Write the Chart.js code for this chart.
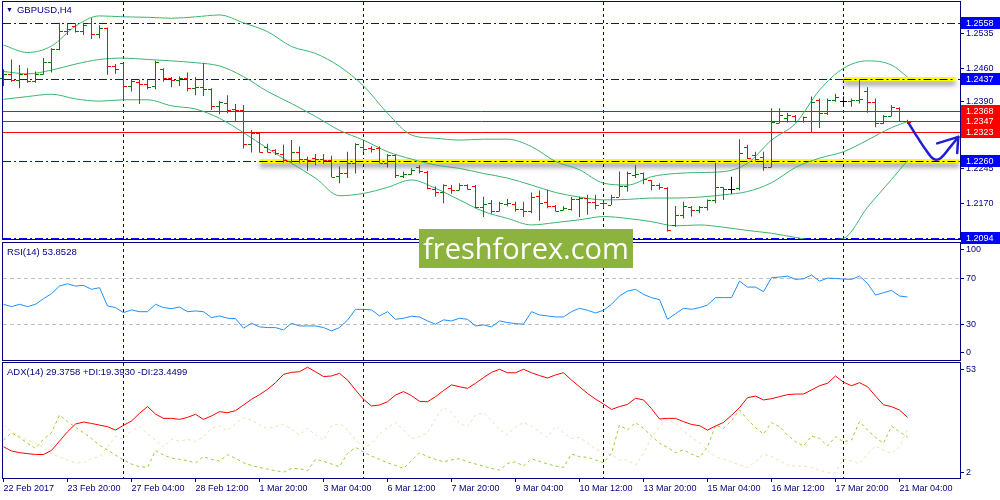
<!DOCTYPE html>
<html lang="en">
<head>
<meta charset="UTF-8">
<title>GBPUSD,H4</title>
<script src="https://cdn.jsdelivr.net/npm/chart.js"></script>
<style>
  body { margin: 0; background: #fff; overflow: hidden; }
  #wrap { position: relative; width: 1000px; height: 500px; overflow: hidden; font-family: "Liberation Sans", Arial, sans-serif; }
  #wrap canvas { position: absolute; left: 0; top: 0; }
  .cap { position: absolute; font-size: 9.5px; line-height: 12px; color: #000080; white-space: nowrap; }
  .tri { font-size: 7px; margin-right: 4px; position: relative; top: -1px; }
  .wm { position: absolute; left: 419px; top: 229px; width: 214px; height: 39px; background: #8db33f;
        color: #fff; font-family: "Open Sans", sans-serif; font-size: 29px; line-height: 38px; text-align: center; }
</style>
</head>
<body>
<div id="wrap">
  <canvas id="mainChart" width="1000" height="500"></canvas>
  <canvas id="rsiChart" width="1000" height="500"></canvas>
  <canvas id="adxChart" width="1000" height="500"></canvas>
  <div class="cap" style="left:6px;top:4px"><span class="tri">▼</span>GBPUSD,H4</div>
  <div class="cap" style="left:7px;top:246px">RSI(14) 53.8528</div>
  <div class="cap" style="left:7px;top:366px">ADX(14) 29.3758 +DI:19.3930 -DI:23.4499</div>
  <div class="wm">freshforex.com</div>
</div>

<script>
// 4h bars, index 0 = 22 Feb 2017 12:00
const opens = [
  1.2439, 1.2449, 1.2436, 1.2449, 1.2434, 1.2449, 1.2475, 1.2502, 1.2542, 1.2552,
  1.2542, 1.2558, 1.2536, 1.2547, 1.2466, 1.2472, 1.2423, 1.2432, 1.2426, 1.2423,
  1.2459, 1.2439, 1.2436, 1.2441, 1.2418, 1.2420, 1.2416, 1.2380, 1.2385, 1.2373,
  1.2371, 1.2298, 1.2321, 1.2292, 1.2285, 1.2276, 1.2260, 1.2281, 1.2265, 1.2267,
  1.2265, 1.2262, 1.2229, 1.2236, 1.2256, 1.2292, 1.2290, 1.2290, 1.2257, 1.2274,
  1.2229, 1.2233, 1.2249, 1.2238, 1.2200, 1.2195, 1.2202, 1.2199, 1.2209, 1.2206,
  1.2161, 1.2170, 1.2154, 1.2168, 1.2168, 1.2157, 1.2152, 1.2186, 1.2173, 1.2163,
  1.2155, 1.2157, 1.2178, 1.2181, 1.2173, 1.2171, 1.2166, 1.2184, 1.2206, 1.2231,
  1.2234, 1.2220, 1.2209, 1.2202, 1.2123, 1.2145, 1.2161, 1.2155, 1.2161, 1.2177,
  1.2204, 1.2200, 1.2202, 1.2292, 1.2274, 1.2270, 1.2249, 1.2342, 1.2353, 1.2358,
  1.2348, 1.2348, 1.2393, 1.2365, 1.2393, 1.2391, 1.2391, 1.2393, 1.2411, 1.2389,
  1.2342, 1.2357, 1.2375, 1.2348
];
const highs = [
  1.2459, 1.2480, 1.2468, 1.2461, 1.2454, 1.2483, 1.2504, 1.2559, 1.2558, 1.2558,
  1.2559, 1.2569, 1.2554, 1.2549, 1.2470, 1.2473, 1.2436, 1.2437, 1.2437, 1.2477,
  1.2461, 1.2442, 1.2443, 1.2452, 1.2442, 1.2472, 1.2418, 1.2391, 1.2403, 1.2384,
  1.2382, 1.2328, 1.2322, 1.2298, 1.2286, 1.2296, 1.2306, 1.2292, 1.2270, 1.2276,
  1.2276, 1.2272, 1.2249, 1.2281, 1.2299, 1.2306, 1.2293, 1.2293, 1.2276, 1.2275,
  1.2238, 1.2245, 1.2252, 1.2240, 1.2206, 1.2211, 1.2209, 1.2213, 1.2211, 1.2209,
  1.2184, 1.2177, 1.2173, 1.2179, 1.2173, 1.2173, 1.2193, 1.2197, 1.2199, 1.2166,
  1.2163, 1.2183, 1.2184, 1.2188, 1.2188, 1.2173, 1.2188, 1.2238, 1.2238, 1.2252,
  1.2236, 1.2220, 1.2213, 1.2204, 1.2164, 1.2173, 1.2164, 1.2164, 1.2178, 1.2257,
  1.2204, 1.2227, 1.2308, 1.2296, 1.2281, 1.2281, 1.2375, 1.2375, 1.2365, 1.2360,
  1.2357, 1.2400, 1.2396, 1.2396, 1.2406, 1.2400, 1.2396, 1.2436, 1.2420, 1.2396,
  1.2360, 1.2382, 1.2377, 1.2350
];
const lows = [
  1.2423, 1.2432, 1.2418, 1.2430, 1.2430, 1.2447, 1.2452, 1.2500, 1.2533, 1.2538,
  1.2533, 1.2524, 1.2526, 1.2447, 1.2449, 1.2391, 1.2411, 1.2384, 1.2416, 1.2416,
  1.2432, 1.2420, 1.2423, 1.2411, 1.2403, 1.2401, 1.2371, 1.2362, 1.2364, 1.2348,
  1.2288, 1.2279, 1.2279, 1.2279, 1.2274, 1.2257, 1.2257, 1.2256, 1.2240, 1.2252,
  1.2255, 1.2226, 1.2213, 1.2224, 1.2234, 1.2281, 1.2279, 1.2256, 1.2247, 1.2224,
  1.2224, 1.2231, 1.2234, 1.2200, 1.2184, 1.2170, 1.2190, 1.2197, 1.2199, 1.2159,
  1.2140, 1.2147, 1.2152, 1.2163, 1.2152, 1.2140, 1.2148, 1.2132, 1.2159, 1.2152,
  1.2154, 1.2154, 1.2140, 1.2145, 1.2157, 1.2159, 1.2166, 1.2184, 1.2195, 1.2224,
  1.2211, 1.2197, 1.2199, 1.2109, 1.2119, 1.2137, 1.2141, 1.2148, 1.2154, 1.2170,
  1.2177, 1.2190, 1.2197, 1.2265, 1.2262, 1.2240, 1.2247, 1.2342, 1.2344, 1.2344,
  1.2344, 1.2322, 1.2332, 1.2360, 1.2389, 1.2380, 1.2378, 1.2385, 1.2365, 1.2334,
  1.2341, 1.2357, 1.2346, 1.2341
];
const closes = [
  1.2449, 1.2436, 1.2449, 1.2434, 1.2449, 1.2475, 1.2502, 1.2542, 1.2545, 1.2542,
  1.2554, 1.2536, 1.2547, 1.2466, 1.2459, 1.2423, 1.2434, 1.2427, 1.2421, 1.2475,
  1.2439, 1.2436, 1.2439, 1.2418, 1.2420, 1.2416, 1.2380, 1.2389, 1.2371, 1.2371,
  1.2298, 1.2321, 1.2281, 1.2281, 1.2279, 1.2263, 1.2281, 1.2265, 1.2263, 1.2265,
  1.2263, 1.2227, 1.2236, 1.2257, 1.2298, 1.2286, 1.2286, 1.2257, 1.2274, 1.2231,
  1.2233, 1.2242, 1.2240, 1.2202, 1.2195, 1.2209, 1.2199, 1.2209, 1.2200, 1.2161,
  1.2168, 1.2152, 1.2170, 1.2170, 1.2157, 1.2152, 1.2184, 1.2170, 1.2164, 1.2154,
  1.2159, 1.2178, 1.2181, 1.2173, 1.2166, 1.2170, 1.2184, 1.2206, 1.2234, 1.2233,
  1.2222, 1.2209, 1.2204, 1.2112, 1.2145, 1.2163, 1.2155, 1.2161, 1.2176, 1.2204,
  1.2200, 1.2200, 1.2278, 1.2267, 1.2265, 1.2249, 1.2344, 1.2360, 1.2360, 1.2348,
  1.2355, 1.2389, 1.2365, 1.2393, 1.2400, 1.2391, 1.2393, 1.2394, 1.2389, 1.2342,
  1.2357, 1.2377, 1.2348, 1.2344
];

// Bollinger bands, read every third bar
const bandIdx = [0, 3, 6, 9, 12, 15, 18, 21, 24, 27, 30, 33, 36, 39, 42, 45, 48, 51, 54, 57,
  60, 63, 66, 69, 72, 75, 78, 81, 84, 87, 90, 93, 96, 99, 102, 105, 108, 111, 113];
const bandUpper = [1.2511, 1.2495, 1.2509, 1.2552, 1.2574, 1.2572, 1.2571, 1.2569, 1.2572, 1.2576,
  1.2559, 1.2540, 1.2508, 1.2493, 1.2465, 1.2423, 1.2364, 1.2317, 1.2310, 1.2306,
  1.2308, 1.2308, 1.2292, 1.2260, 1.2242, 1.2213, 1.2209, 1.2227, 1.2234, 1.2236,
  1.2238, 1.2256, 1.2306, 1.2342, 1.2414, 1.2461, 1.2477, 1.2468, 1.2442];
const bandMiddle = [1.2454, 1.2449, 1.2457, 1.2470, 1.2480, 1.2483, 1.2480, 1.2477, 1.2473, 1.2466,
  1.2443, 1.2411, 1.2385, 1.2357, 1.2327, 1.2306, 1.2281, 1.2265, 1.2252, 1.2245,
  1.2234, 1.2224, 1.2209, 1.2193, 1.2183, 1.2177, 1.2178, 1.2181, 1.2181, 1.2183,
  1.2188, 1.2195, 1.2214, 1.2247, 1.2267, 1.2281, 1.2306, 1.2333, 1.2346];
const bandLower = [1.2394, 1.2400, 1.2405, 1.2395, 1.2390, 1.2393, 1.2393, 1.2380, 1.2373, 1.2353,
  1.2322, 1.2288, 1.2256, 1.2224, 1.2186, 1.2191, 1.2204, 1.2220, 1.2202, 1.2177,
  1.2152, 1.2137, 1.2123, 1.2128, 1.2134, 1.2141, 1.2137, 1.2130, 1.2121, 1.2123,
  1.2118, 1.2111, 1.2105, 1.2096, 1.2089, 1.2094, 1.2161, 1.2221, 1.2262];

const rsi = [
  47.6, 45.6, 47.6, 45.6, 47.6, 52.4, 56.7, 63.2, 65.2, 63.2,
  63.8, 60.4, 61.8, 46.2, 44.8, 40.5, 42.8, 41.3, 41.3, 47.6,
  44.8, 43.9, 45.3, 41.3, 41.9, 41.3, 36.2, 37.7, 35.7, 35.4,
  27.2, 31.4, 28.3, 27.7, 27.7, 25.7, 31.4, 29.1, 29.1, 29.1,
  27.7, 24.9, 27.7, 34.0, 43.3, 43.3, 42.8, 37.7, 41.3, 34.8,
  35.7, 37.4, 36.8, 33.4, 30.6, 34.3, 33.4, 35.7, 34.8, 29.1,
  30.0, 28.3, 33.4, 32.0, 31.1, 30.6, 41.3, 38.5, 37.7, 36.8,
  36.8, 41.3, 44.2, 42.5, 40.2, 42.5, 47.6, 54.7, 58.9, 60.4,
  56.1, 53.3, 51.6, 34.8, 39.6, 44.2, 43.3, 44.8, 47.0, 53.3,
  53.3, 53.3, 67.4, 62.3, 62.3, 58.4, 70.3, 70.9, 71.7, 68.9,
  69.4, 72.6, 67.4, 70.0, 69.7, 69.2, 68.9, 71.7, 65.5, 55.5,
  57.5, 59.5, 54.7, 53.85
];

const adx = [
  14.8, 12.7, 11.9, 11.4, 11.0, 11.0, 13.0, 17.6, 22.2, 26.0,
  27.0, 26.3, 25.5, 24.7, 23.0, 25.4, 27.5, 31.3, 34.6, 30.9,
  28.8, 28.8, 28.3, 29.3, 30.8, 28.3, 30.0, 32.1, 31.6, 32.6,
  35.4, 38.2, 40.5, 43.1, 46.4, 50.5, 51.5, 51.8, 54.0, 51.8,
  49.4, 49.7, 51.0, 47.7, 42.8, 38.2, 34.9, 35.4, 37.0, 40.3,
  42.0, 40.0, 37.2, 37.0, 39.5, 42.5, 45.3, 44.4, 43.6, 46.1,
  48.9, 51.5, 53.0, 51.3, 51.3, 53.0, 51.3, 49.9, 48.7, 50.2,
  51.3, 47.7, 44.4, 41.1, 38.3, 35.9, 33.2, 34.6, 35.7, 38.7,
  37.9, 33.6, 28.5, 28.8, 28.8, 27.2, 25.8, 25.2, 23.0, 25.0,
  26.8, 30.3, 34.1, 39.0, 39.8, 37.9, 38.5, 39.5, 40.5, 40.8,
  40.8, 42.8, 44.9, 46.1, 49.7, 46.6, 44.9, 46.4, 44.4, 39.8,
  35.5, 34.6, 32.9, 29.38
];
const plusDi = [
  18.1, 21.7, 19.4, 16.5, 14.0, 18.5, 21.7, 30.5, 27.2, 24.4,
  21.7, 18.9, 15.5, 13.2, 10.7, 8.3, 6.3, 5.0, 4.6, 12.9,
  10.7, 9.2, 8.6, 7.9, 6.9, 9.9, 8.6, 7.8, 10.9, 9.1,
  6.9, 5.6, 4.6, 3.8, 3.0, 2.3, 4.1, 4.0, 3.0, 8.6,
  7.6, 6.3, 5.0, 11.5, 14.5, 12.2, 10.2, 8.6, 6.9, 5.6,
  4.1, 7.9, 11.9, 9.9, 8.6, 7.4, 8.3, 8.9, 7.4, 6.3,
  5.3, 4.1, 3.3, 6.6, 7.4, 5.3, 8.9, 7.6, 6.3, 5.3,
  4.6, 11.2, 9.9, 9.6, 8.3, 6.9, 11.5, 25.5, 23.1, 26.7,
  23.9, 20.1, 16.5, 14.5, 11.9, 13.2, 11.2, 9.6, 14.5, 25.5,
  23.9, 27.7, 32.9, 28.3, 24.2, 21.1, 26.7, 24.7, 20.6, 17.3,
  15.2, 20.1, 18.9, 15.2, 19.8, 17.3, 18.1, 27.2, 23.1, 19.4,
  16.5, 25.0, 22.2, 19.39
];
const minusDi = [
  25.5, 22.2, 20.1, 18.1, 16.8, 14.5, 11.2, 9.7, 8.3, 6.9,
  6.9, 8.9, 9.9, 14.5, 20.1, 18.5, 22.7, 24.7, 21.1, 18.1,
  14.8, 18.5, 17.5, 18.5, 17.3, 19.8, 23.9, 25.0, 22.7, 26.3,
  29.1, 28.0, 25.5, 23.7, 24.7, 25.9, 23.4, 20.6, 23.9, 20.6,
  18.1, 25.0, 26.3, 23.1, 18.1, 14.8, 16.1, 21.1, 24.2, 26.7,
  23.1, 18.9, 19.8, 21.7, 28.8, 34.2, 31.6, 26.3, 24.7, 30.5,
  31.6, 27.7, 23.4, 20.6, 24.7, 26.7, 25.0, 22.2, 19.4, 25.0,
  21.7, 18.9, 19.4, 16.8, 13.5, 12.4, 10.7, 8.3, 8.3, 5.8,
  11.5, 19.4, 24.7, 28.3, 26.3, 22.7, 19.4, 16.8, 13.2, 9.9,
  8.6, 7.4, 5.8, 4.6, 7.4, 11.2, 9.9, 7.9, 5.8, 5.3,
  5.3, 4.6, 3.3, 2.0, 2.0, 8.6, 7.9, 6.3, 11.2, 15.2,
  13.2, 11.5, 14.8, 23.45
];

// axes
const xTickIdx = [0, 8, 16, 24, 32, 40, 48, 56, 64, 72, 80, 88, 96, 104, 112];
const xTickLabels = ['22 Feb 2017', '23 Feb 20:00', '27 Feb 04:00', '28 Feb 12:00', '1 Mar 20:00',
  '3 Mar 04:00', '6 Mar 12:00', '7 Mar 20:00', '9 Mar 04:00', '10 Mar 12:00', '13 Mar 20:00',
  '15 Mar 04:00', '16 Mar 12:00', '17 Mar 20:00', '21 Mar 04:00'];
const gridIdx = [15, 45, 75, 105];
const priceTicks = [1.2535, 1.2460, 1.2390, 1.2315, 1.2245, 1.2170];
const rsiTickVals = [6, 30, 70, 94.5];
const rsiTickText = ['0', '30', '70', '100'];
const adxTicks = [2, 53];

// drawn objects
const blueLevels = [1.2558, 1.2437, 1.2260, 1.2094];
const redLevels = [1.2368, 1.2347, 1.2323];
const zoneLevels = [1.2260, 1.2437];
const zoneFrom = [32, 105];
const zoneTo = [119.5, 119];
const arrowX = [113.16, 114.21, 115.46, 116.29, 117.13, 118.38, 119.35];
const arrowY = [1.2342, 1.2313, 1.2281, 1.2265, 1.2267, 1.2292, 1.2313];
const headX = [116.71, 119.35, 119.21];
const headY = [1.2299, 1.2313, 1.2278];

const X_MIN = -0.0625, X_MAX = 119.5625;
const NAVY = '#000080';
const FONT = { family: '"Liberation Sans", Arial, sans-serif', size: 9 };

const barColor = i => closes[i] > opens[i] ? '#008000' : (closes[i] < opens[i] ? '#ff0000' : '#000000');

function gridX() {
  return {
    type: 'linear', min: X_MIN, max: X_MAX, position: 'bottom', offset: false,
    afterBuildTicks: s => { s.ticks = gridIdx.map(v => ({ value: v })); },
    afterFit: s => { s.height = 0; s.paddingLeft = 0; s.paddingRight = 0; },
    ticks: { display: false },
    grid: { offset: false, drawOnChartArea: true, drawTicks: false, color: NAVY, lineWidth: 1 },
    border: { display: false, dash: [3, 3] }
  };
}

function rightY(extra) {
  return Object.assign({
    position: 'right',
    afterFit: s => { s.width = 40; s.paddingTop = 0; s.paddingBottom = 0; },
    ticks: { color: NAVY, font: FONT, padding: 2 },
    grid: { drawOnChartArea: false, drawTicks: true, tickLength: 4, color: NAVY, tickColor: NAVY },
    border: { display: false }
  }, extra);
}

// frame round the plot area
const frame = {
  id: 'frame',
  afterDraw(chart) {
    const { ctx, chartArea: a } = chart;
    ctx.save();
    ctx.strokeStyle = NAVY;
    ctx.lineWidth = 1;
    ctx.strokeRect(a.left - 0.5, a.top - 0.5, a.right - a.left + 1, a.bottom - a.top + 1);
    ctx.restore();
  }
};

// level lines, zones, OHLC ticks and price tags on the main window
const mainDeco = {
  id: 'mainDeco',
  beforeDatasetsDraw(chart) {
    const { ctx, chartArea: a, scales: { x, y } } = chart;
    ctx.save();
    ctx.beginPath();
    ctx.rect(a.left, a.top, a.right - a.left, a.bottom - a.top);
    ctx.clip();
    ctx.lineWidth = 1;
    ctx.strokeStyle = '#0000ff';
    ctx.setLineDash([8, 3, 2, 3]);
    blueLevels.forEach(v => {
      const py = Math.round(y.getPixelForValue(v)) + 0.5;
      ctx.beginPath(); ctx.moveTo(a.left, py); ctx.lineTo(a.right, py); ctx.stroke();
    });
    ctx.setLineDash([]);
    ctx.strokeStyle = '#ff0000';
    redLevels.forEach(v => {
      const py = Math.round(y.getPixelForValue(v)) + 0.5;
      ctx.beginPath(); ctx.moveTo(a.left, py); ctx.lineTo(a.right, py); ctx.stroke();
    });
    zoneLevels.forEach((v, k) => {
      const py = Math.round(y.getPixelForValue(v));
      const x0 = x.getPixelForValue(zoneFrom[k]), x1 = x.getPixelForValue(zoneTo[k]);
      ctx.save();
      ctx.shadowColor = 'rgba(0,0,0,0.45)';
      ctx.shadowBlur = 5;
      ctx.shadowOffsetY = 4;
      ctx.fillStyle = '#ffff00';
      ctx.fillRect(x0, py - 2, x1 - x0, 4);
      ctx.restore();
      ctx.strokeStyle = '#000000';
      ctx.setLineDash([8, 3, 2, 3]);
      ctx.beginPath(); ctx.moveTo(x0, py + 0.5); ctx.lineTo(x1, py + 0.5); ctx.stroke();
      ctx.setLineDash([]);
    });
    ctx.restore();
  },
  afterDatasetsDraw(chart) {
    const { ctx, scales: { x, y } } = chart;
    ctx.save();
    for (let i = 0; i < opens.length; i++) {
      const px = Math.floor(x.getPixelForValue(i));
      ctx.fillStyle = barColor(i);
      ctx.fillRect(px - 3, Math.round(y.getPixelForValue(opens[i])), 3, 1);
      ctx.fillRect(px + 1, Math.round(y.getPixelForValue(closes[i])), 3, 1);
    }
    ctx.restore();
  },
  afterDraw(chart) {
    const { ctx, scales: { y } } = chart;
    const tag = (list, bg) => {
      list.forEach(v => {
        const py = Math.round(y.getPixelForValue(v));
        ctx.fillStyle = bg;
        ctx.fillRect(961, py - 6, 39, 12);
      });
      ctx.fillStyle = '#ffffff';
      ctx.font = '9px "Liberation Sans", Arial, sans-serif';
      ctx.textBaseline = 'middle';
      list.forEach(v => {
        ctx.fillText(v.toFixed(4), 966, Math.round(y.getPixelForValue(v)) + 0.5);
      });
    };
    ctx.save();
    tag(blueLevels, '#0000ff');
    tag(redLevels, '#ff0000');
    ctx.restore();
  }
};

const common = {
  responsive: false,
  animation: false,
  devicePixelRatio: 1,
  events: [],
  plugins: { legend: { display: false }, tooltip: { enabled: false } }
};

new Chart(document.getElementById('mainChart'), {
  type: 'bar',
  data: {
    datasets: [
      {
        type: 'line', order: 0,
        data: arrowX.map((v, k) => ({ x: v, y: arrowY[k] })),
        borderColor: '#1f1fd0', borderWidth: 2.5, pointRadius: 0, tension: 0.4,
        borderCapStyle: 'round', borderJoinStyle: 'round'
      },
      {
        type: 'line', order: 0,
        data: headX.map((v, k) => ({ x: v, y: headY[k] })),
        borderColor: '#1f1fd0', borderWidth: 2.5, pointRadius: 0, tension: 0,
        borderCapStyle: 'round', borderJoinStyle: 'round'
      },
      {
        type: 'bar', order: 1,
        data: highs.map((h, i) => ({ x: i, y: [lows[i], h] })),
        backgroundColor: highs.map((h, i) => barColor(i)),
        borderWidth: 0, barThickness: 1, grouped: false, inflateAmount: 0
      },
      {
        type: 'line', order: 2,
        data: bandIdx.map((v, k) => ({ x: v, y: bandUpper[k] })),
        borderColor: '#3cb371', borderWidth: 1, pointRadius: 0, cubicInterpolationMode: 'monotone'
      },
      {
        type: 'line', order: 2,
        data: bandIdx.map((v, k) => ({ x: v, y: bandMiddle[k] })),
        borderColor: '#3cb371', borderWidth: 1, pointRadius: 0, cubicInterpolationMode: 'monotone'
      },
      {
        type: 'line', order: 2,
        data: bandIdx.map((v, k) => ({ x: v, y: bandLower[k] })),
        borderColor: '#3cb371', borderWidth: 1, pointRadius: 0, cubicInterpolationMode: 'monotone'
      }
    ]
  },
  options: Object.assign({}, common, {
    layout: { padding: { left: 3, right: 0, top: 2, bottom: 261 } },
    scales: {
      x: gridX(),
      y: rightY({
        type: 'linear', min: 1.20926, max: 1.26040,
        afterBuildTicks: s => { s.ticks = priceTicks.map(v => ({ value: v })); },
        ticks: { color: NAVY, font: FONT, padding: 2, callback: v => v.toFixed(4) }
      })
    }
  }),
  plugins: [mainDeco, frame]
});

new Chart(document.getElementById('rsiChart'), {
  type: 'line',
  data: {
    datasets: [{
      data: rsi.map((v, i) => ({ x: i, y: v })),
      borderColor: '#1e90ff', borderWidth: 1, pointRadius: 0, tension: 0
    }]
  },
  options: Object.assign({}, common, {
    layout: { padding: { left: 3, right: 0, top: 243, bottom: 140 } },
    scales: {
      x: gridX(),
      y: rightY({
        min: 0, max: 100,
        afterBuildTicks: s => { s.ticks = rsiTickVals.map(v => ({ value: v })); },
        ticks: { color: NAVY, font: FONT, padding: 2, callback: v => rsiTickText[rsiTickVals.indexOf(v)] },
        grid: {
          drawOnChartArea: true, drawTicks: true, tickLength: 4, tickColor: NAVY,
          color: c => (c.tick && (c.tick.value === 30 || c.tick.value === 70)) ? '#c0c0c0' : 'rgba(0,0,0,0)'
        },
        border: { display: false, dash: [4, 3] }
      })
    }
  }),
  plugins: [frame]
});

new Chart(document.getElementById('adxChart'), {
  type: 'line',
  data: {
    datasets: [
      {
        data: adx.map((v, i) => ({ x: i, y: v })),
        borderColor: '#ff0000', borderWidth: 1, pointRadius: 0, tension: 0
      },
      {
        data: plusDi.map((v, i) => ({ x: i, y: v })),
        borderColor: '#9acd32', borderWidth: 1, borderDash: [3, 3], pointRadius: 0, tension: 0
      },
      {
        data: minusDi.map((v, i) => ({ x: i, y: v })),
        borderColor: '#f5deb3', borderWidth: 1, borderDash: [3, 3], pointRadius: 0, tension: 0
      }
    ]
  },
  options: Object.assign({}, common, {
    layout: { padding: { left: 3, right: 0, top: 363, bottom: 0 } },
    scales: {
      x: gridX(),
      xl: {
        type: 'linear', min: X_MIN, max: X_MAX, position: 'bottom',
        afterBuildTicks: s => { s.ticks = xTickIdx.map(v => ({ value: v })); },
        afterFit: s => { s.height = 22; s.paddingLeft = 0; s.paddingRight = 0; },
        ticks: {
          autoSkip: false, maxRotation: 0, minRotation: 0, align: 'start', padding: 1,
          color: NAVY, font: FONT, callback: v => xTickLabels[xTickIdx.indexOf(v)]
        },
        grid: { drawOnChartArea: false, drawTicks: true, tickLength: 4, color: NAVY },
        border: { display: false }
      },
      y: rightY({
        min: -0.6, max: 56.1,
        afterBuildTicks: s => { s.ticks = adxTicks.map(v => ({ value: v })); }
      })
    }
  }),
  plugins: [frame]
});
</script>
</body>
</html>
